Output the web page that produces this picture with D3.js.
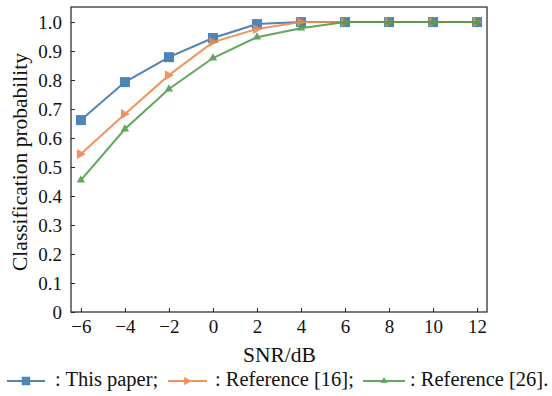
<!DOCTYPE html>
<html>
<head>
<meta charset="utf-8">
<script src="https://cdn.jsdelivr.net/npm/d3@7"></script>
<style>
  body { margin: 0; background: #fff; }
  text { font-family: "Liberation Serif", "Times New Roman", serif; fill: #111; }
</style>
</head>
<body>
<svg id="chart" width="552" height="396"></svg>
<script>
// values
var snr = [-6, -4, -2, 0, 2, 4, 6, 8, 10, 12];
var thisPaper = [0.662, 0.793, 0.879, 0.945, 0.993, 1.0, 1.0, 1.0, 1.0, 1.0];
var ref16 = [0.545, 0.683, 0.817, 0.931, 0.976, 1.0, 1.0, 1.0, 1.0, 1.0];
var ref26 = [0.455, 0.631, 0.769, 0.876, 0.948, 0.979, 1.0, 1.0, 1.0, 1.0];
var yTicks = [0, 0.1, 0.2, 0.3, 0.4, 0.5, 0.6, 0.7, 0.8, 0.9, 1.0];

var series = [
  {name: ": This paper;", values: thisPaper, color: "#3d77b0", marker: "square"},
  {name: ": Reference [16];", values: ref16, color: "#f0894a", marker: "tri"},
  {name: ": Reference [26].", values: ref26, color: "#4e9e4a", marker: "small"}
];

var svg = d3.select("#chart");
var m = {left: 71, right: 487, top: 7, bottom: 312};
var tickFont = "19px", titleFont = "21.5px", legendFont = "20.5px";

var x = d3.scaleLinear().domain([-6.45, 12.45]).range([m.left, m.right]);
var y = d3.scaleLinear().domain([0, 1.052]).range([m.bottom, m.top]);

// frame
svg.append("rect")
  .attr("x", m.left).attr("y", m.top)
  .attr("width", m.right - m.left).attr("height", m.bottom - m.top)
  .attr("fill", "none").attr("stroke", "#222").attr("stroke-width", 1.2);

var xAxis = svg.append("g").attr("transform", "translate(0," + m.bottom + ")")
  .call(d3.axisBottom(x).tickValues(snr).tickSize(-4).tickSizeOuter(0)
    .tickFormat(function(d) { return d < 0 ? "\u2212" + Math.abs(d) : d; }));
var yAxis = svg.append("g").attr("transform", "translate(" + m.left + ",0)")
  .call(d3.axisLeft(y).tickValues(yTicks).tickSize(-4).tickSizeOuter(0)
    .tickFormat(function(d) { return d === 0 ? "0" : d3.format(".1f")(d); }));

[xAxis, yAxis].forEach(function(g) {
  g.select(".domain").remove();
  g.selectAll(".tick line").attr("stroke", "#222");
  g.selectAll(".tick text").style("font-size", tickFont).attr("fill", "#111")
    .style("font-family", "'Liberation Serif', serif");
});
xAxis.selectAll(".tick text").attr("dy", "0.85em").attr("y", 5);
yAxis.selectAll(".tick text").attr("x", -9);

svg.append("text").attr("x", 279.5).attr("y", 362)
  .attr("text-anchor", "middle").style("font-size", titleFont).text("SNR/dB");
svg.append("text")
  .attr("transform", "translate(27,162) rotate(-90)")
  .attr("text-anchor", "middle").style("font-size", titleFont)
  .text("Classification probability");

function drawMarker(g, type, color) {
  if (type === "square") {
    g.append("rect").attr("x", -5).attr("y", -5).attr("width", 10).attr("height", 10)
      .attr("fill", color);
  } else if (type === "tri") {
    g.append("path").attr("d", "M-4,-5L5,0L-4,5Z").attr("fill", color);
  } else {
    g.append("path").attr("d", d3.symbol(d3.symbolTriangle, 30)()).attr("fill", color);
  }
}

var line = d3.line().x(function(d, i) { return x(snr[i]); }).y(function(d) { return y(d); });

series.forEach(function(s) {
  var g = svg.append("g").attr("opacity", 0.9);
  g.append("path").datum(s.values).attr("d", line)
    .attr("fill", "none").attr("stroke", s.color).attr("stroke-width", 2);
  s.values.forEach(function(v, i) {
    drawMarker(g.append("g").attr("transform", "translate(" + x(snr[i]) + "," + y(v) + ")"),
      s.marker, s.color);
  });
});

// legend
var legendLine = [[7, 45], [168, 207], [363, 405]];
var legendText = [55, 215, 410];
series.forEach(function(s, i) {
  var x0 = legendLine[i][0], x1 = legendLine[i][1];
  var g = svg.append("g").attr("transform", "translate(0,381)").attr("opacity", 0.9);
  g.append("line").attr("x1", x0).attr("x2", x1).attr("stroke", s.color).attr("stroke-width", 2);
  drawMarker(g.append("g").attr("transform", "translate(" + ((x0 + x1) / 2) + ",0) scale(0.85)"),
    s.marker, s.color);
  svg.append("text").attr("x", legendText[i]).attr("y", 386)
    .style("font-size", legendFont).text(s.name);
});
</script>
</body>
</html>
